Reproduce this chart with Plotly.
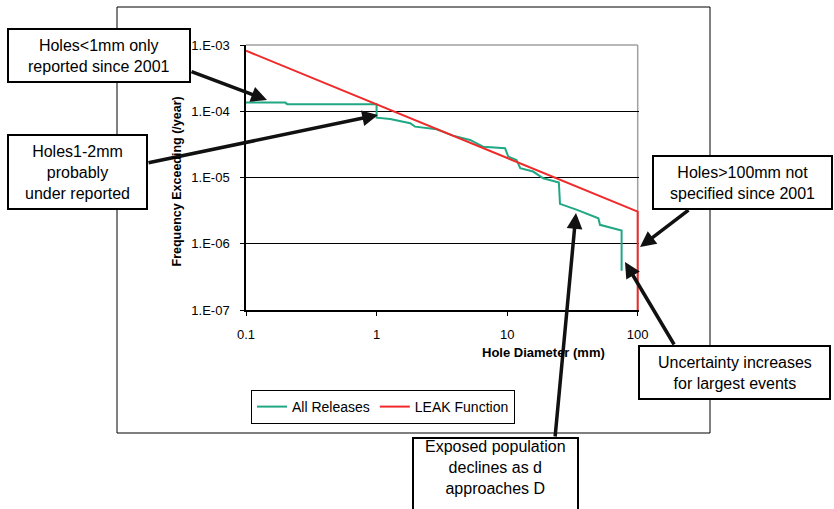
import plotly.graph_objects as go

# ---------------- data ----------------
release_x = [0.1, 0.2, 0.207, 1.0, 1.0, 1.27, 1.81, 1.97, 2.89, 3.85, 5.2, 6.54,
             9.64, 10.2, 11.8, 12.6, 15.8, 18.9, 24.9, 25.4, 34.3, 43.1, 50.0,
             51.4, 75.3, 75.3]
release_y = [1.35e-4, 1.35e-4, 1.28e-4, 1.28e-4, 8.0e-5, 7.66e-5, 6.6e-5, 5.86e-5,
             5.35e-5, 4.29e-5, 3.69e-5, 2.92e-5, 2.77e-5, 2.07e-5, 1.84e-5,
             1.38e-5, 1.23e-5, 9.75e-6, 8.43e-6, 4.0e-6, 3.25e-6, 2.73e-6,
             2.43e-6, 1.93e-6, 1.59e-6, 3.9e-7]

leak_x = [0.1, 1, 10, 100, 100]
leak_y = [8.2e-4, 1.27e-4, 1.98e-5, 3.06e-6, 1e-7]

x_tickvals = [0.1, 1, 10, 100]
x_ticktext = ["0.1", "1", "10", "100"]
y_tickvals = [1e-7, 1e-6, 1e-5, 1e-4, 1e-3]
y_ticktext = ["1.E-07", "1.E-06", "1.E-05", "1.E-04", "1.E-03"]

series_names = ["All Releases", "LEAK Function"]
x_title = "Hole Diameter (mm)"
y_title = "Frequency Exceeding (/year)"

notes = [
    "Holes<1mm only<br>reported since 2001",
    "Holes1-2mm<br>probably<br>under reported",
    "Holes>100mm not<br>specified since 2001",
    "Uncertainty increases<br>for largest events",
    "Exposed population<br>declines as d<br>approaches D",
]

# ---------------- layout geometry ----------------
W, H = 834, 509
L, T, R, B = 246, 45, 195, 199
PW = W - L - R
PH = H - T - B
FONT = "Liberation Sans, Arial, sans-serif"


def px(x):
    return (x - L) / PW


def py(y):
    return (H - B - y) / PH


GREEN = "#1fa883"
RED = "#f02a2a"

fig = go.Figure()
fig.add_trace(go.Scatter(x=release_x, y=release_y, mode="lines", name=series_names[0],
                         line=dict(color=GREEN, width=2)))
fig.add_trace(go.Scatter(x=leak_x, y=leak_y, mode="lines", name=series_names[1],
                         line=dict(color=RED, width=2)))

shapes = []
# outer chart frame
shapes.append(dict(type="rect", xref="paper", yref="paper",
                   x0=px(117), x1=px(710), y0=py(433), y1=py(7),
                   line=dict(color="black", width=1), fillcolor="rgba(0,0,0,0)",
                   layer="above"))
# grey plot border (top and right)
xr = 3 / 3.01
shapes.append(dict(type="line", xref="paper", yref="paper", x0=0, x1=xr, y0=1, y1=1,
                   line=dict(color="#a0a0a0", width=1.5), layer="above"))
shapes.append(dict(type="line", xref="paper", yref="paper", x0=xr, x1=xr, y0=0, y1=1,
                   line=dict(color="#a0a0a0", width=1.5), layer="between"))

# annotation boxes (pixel rectangles)
boxes = [
    (8, 29, 190, 82),
    (8, 135, 147, 209),
    (653, 156, 832, 209),
    (639, 346, 830, 399),
    (413, 438, 578, 520),
]
for (x0, y0, x1, y1) in boxes:
    shapes.append(dict(type="rect", xref="paper", yref="paper",
                       x0=px(x0), x1=px(x1), y0=py(y1), y1=py(y0),
                       line=dict(color="black", width=2), fillcolor="white",
                       layer="above"))

annotations = []
text_centres = [(99, 55.5), (77.5, 172), (742.5, 182.5), (734.5, 372.5), (495.5, 468)]
for txt, (cx, cy) in zip(notes, text_centres):
    annotations.append(dict(xref="paper", yref="paper", x=px(cx), y=py(cy),
                            text=txt, showarrow=False, align="center",
                            xanchor="center", yanchor="middle",
                            font=dict(family=FONT, size=16, color="black")))

# arrows: (tail px, tail py, head px, head py)
arrows = [
    (190, 71, 267, 100),
    (147, 163, 378, 115),
    (690, 209, 640, 247),
    (675, 346, 625, 262),
    (555, 438, 576, 213),
]
for (tx, ty, hx, hy) in arrows:
    annotations.append(dict(xref="paper", yref="paper", x=px(hx), y=py(hy),
                            ax=tx - hx, ay=ty - hy, axref="pixel", ayref="pixel",
                            text="", showarrow=True, arrowhead=2, arrowsize=0.9,
                            arrowwidth=3.5, arrowcolor="#111111", standoff=0))

# axis titles
annotations.append(dict(xref="paper", yref="paper", x=px(543.5), y=py(352),
                        text="<b>" + x_title + "</b>", showarrow=False,
                        xanchor="center", yanchor="middle",
                        font=dict(family=FONT, size=13, color="black")))
annotations.append(dict(xref="paper", yref="paper", x=px(176), y=py(181.5),
                        text="<b>" + y_title + "</b>", showarrow=False, textangle=-90,
                        xanchor="center", yanchor="middle",
                        font=dict(family=FONT, size=12.5, color="black")))

fig.update_layout(
    width=W, height=H,
    margin=dict(l=L, r=R, t=T, b=B),
    paper_bgcolor="white", plot_bgcolor="white",
    font=dict(family=FONT, size=13, color="black"),
    showlegend=True,
    legend=dict(orientation="h", x=px(251), y=py(390), xanchor="left", yanchor="top",
                bordercolor="black", borderwidth=1, bgcolor="white",
                font=dict(family=FONT, size=14, color="black"),
                itemwidth=30, tracegroupgap=0),
    shapes=shapes,
    annotations=annotations,
)

fig.update_xaxes(type="log", range=[-1, 2.01], tickvals=x_tickvals, ticktext=x_ticktext,
                 showline=True, linecolor="black", linewidth=1.5, ticks="outside",
                 ticklen=4, tickcolor="black", showgrid=False, zeroline=False,
                 ticklabelstandoff=8, tickfont=dict(family=FONT, size=13))
fig.update_yaxes(type="log", range=[-7, -3], tickvals=y_tickvals, ticktext=y_ticktext,
                 showline=True, linecolor="black", linewidth=1.5, ticks="outside",
                 ticklen=4, tickcolor="black", showgrid=True, gridcolor="black",
                 gridwidth=1, zeroline=False, ticklabelstandoff=8,
                 tickfont=dict(family=FONT, size=13))

fig.write_html("out.html",
               config={"displayModeBar": False},
               post_script="document.body.style.margin='0';document.body.style.overflow='hidden';")
